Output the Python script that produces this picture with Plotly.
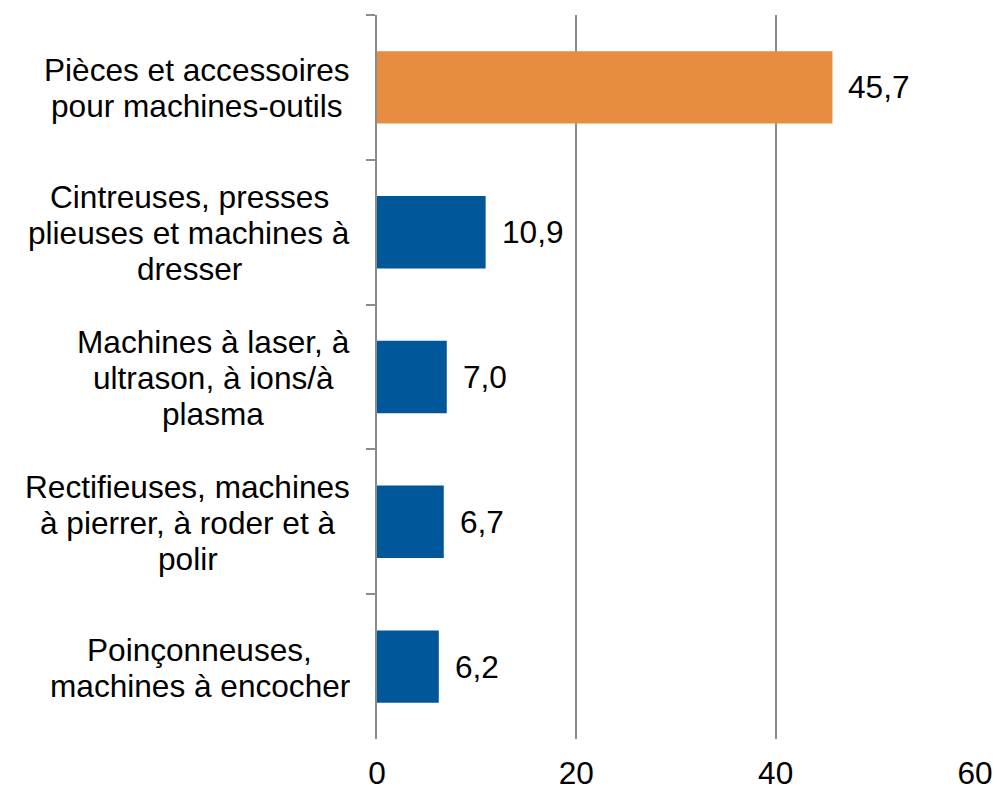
import plotly.graph_objects as go

categories = [
    "Pièces et accessoires<br>pour machines-outils",
    "Cintreuses, presses<br>plieuses et machines à<br>dresser",
    "Machines à laser, à<br>ultrason, à ions/à<br>plasma",
    "Rectifieuses, machines<br>à pierrer, à roder et à<br>polir",
    "Poinçonneuses,<br>machines à encocher",
]
values = [45.7, 10.9, 7.0, 6.7, 6.2]
bar_colors = ["#E68D41", "#00579A", "#00579A", "#00579A", "#00579A"]
x_ticks = [0, 20, 40, 60]

FONT = "Liberation Sans, Arial, sans-serif"
FS = 31.6
LINE_H = 36
LABEL_RIGHT_PX = 350   # right edge of the category label blocks
PLOT_LEFT = 377
PLOT_W = 598

# Arial advance widths (per 1000 em) to centre multi-line labels as blocks
AW = {" ": 278, ",": 278, "-": 333, "/": 278, "C": 722, "M": 833, "P": 667, "R": 722,
      "a": 556, "b": 556, "c": 500, "d": 556, "e": 556, "f": 278, "g": 556, "h": 556,
      "i": 222, "j": 222, "k": 500, "l": 222, "m": 833, "n": 556, "o": 556, "p": 556,
      "q": 556, "r": 333, "s": 500, "t": 278, "u": 556, "v": 500, "w": 722, "x": 500,
      "y": 500, "z": 500, "è": 556, "à": 556, "ç": 500}


def text_w(s):
    return sum(AW.get(ch, 556) for ch in s) * FS / 1000.0


fig = go.Figure(
    go.Bar(
        y=categories,
        x=values,
        orientation="h",
        marker=dict(color=bar_colors, line=dict(width=0)),
        hoverinfo="skip",
    )
)

annotations = []
for c, v in zip(categories, values):
    annotations.append(dict(
        x=v, y=c, xref="x", yref="y",
        text=f"{v:.1f}".replace(".", ","),
        showarrow=False, xanchor="left", xshift=14,
        font=dict(family=FONT, size=FS, color="#000000"),
    ))
    lines = c.split("<br>")
    block_w = max(text_w(l) for l in lines)
    centre_px = LABEL_RIGHT_PX - block_w / 2.0
    xc = (centre_px - PLOT_LEFT) / PLOT_W
    n = len(lines)
    for i, l in enumerate(lines):
        annotations.append(dict(
            x=xc, y=c, xref="paper", yref="y",
            text=l, showarrow=False, xanchor="center",
            yshift=((n - 1) / 2.0 - i) * LINE_H - 1,
            font=dict(family=FONT, size=FS, color="#000000"),
        ))

fig.update_layout(
    width=997, height=790,
    margin=dict(l=PLOT_LEFT, r=997 - PLOT_LEFT - PLOT_W, t=15, b=51, autoexpand=False),
    paper_bgcolor="white", plot_bgcolor="white",
    bargap=0.5,
    showlegend=False,
    font=dict(family=FONT, size=FS, color="#000000"),
    annotations=annotations,
    xaxis=dict(
        range=[0, 60],
        tickvals=x_ticks,
        ticktext=[str(t) for t in x_ticks],
        showgrid=True, gridcolor="#8C8C8C", gridwidth=2,
        zeroline=False, showline=False,
        ticks="", ticklabelstandoff=12,
        tickfont=dict(family=FONT, size=FS, color="#000000"),
        fixedrange=True,
    ),
    yaxis=dict(
        type="category",
        autorange="reversed",
        showticklabels=False,
        showgrid=False, zeroline=False,
        showline=True, linecolor="#8C8C8C", linewidth=2,
        ticks="outside", tickson="boundaries", ticklen=9,
        tickcolor="#8C8C8C", tickwidth=2,
        fixedrange=True,
    ),
)

fig.write_html(
    "out.html",
    config={"displayModeBar": False},
    post_script="document.body.style.margin='0';document.body.style.overflow='hidden';",
)
